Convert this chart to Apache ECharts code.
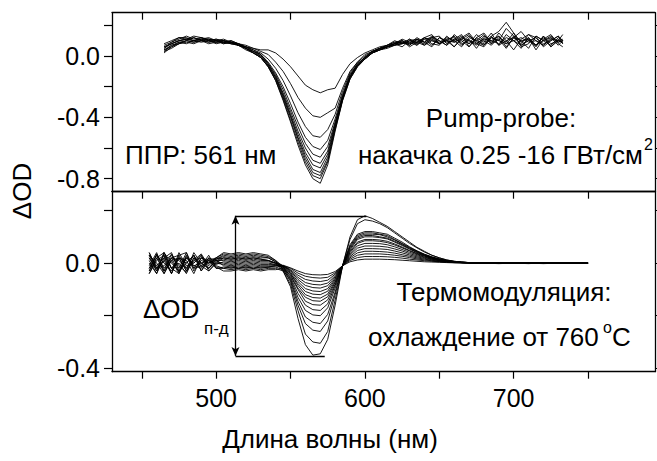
<!DOCTYPE html>
<html>
<head>
<meta charset="utf-8">
<script src="https://cdn.jsdelivr.net/npm/echarts@6/dist/echarts.min.js"></script>
<style>
html,body{margin:0;padding:0;background:#fff;}
#chart{width:657px;height:461px;}
</style>
</head>
<body>
<div id="chart"></div>
<script>
// ---------- DATA ----------
// Top panel (pump-probe) wavelengths, nm
const topWavelengths = [465,470,475,480,485,490,495,500,505,510,515,520,525,530,535,540,545,550,555,560,565,570,575,580,585,590,595,600,605,610,615,620,625,630,635,640,645,650,655,660,665,670,675,680,685,690,695,700,705,710,715,720,725,730,733];

const pp1 = [0.06,0.08,0.10,0.11,0.10,0.11,0.10,0.09,0.10,0.08,0.08,0.07,0.05, 0.04,0.04,0.02,-0.02,-0.07,-0.13,-0.19,-0.22,-0.24,-0.22,-0.21,-0.12,-0.05,-0.01,0.02,0.04, 0.06,0.07,0.09,0.10,0.08,0.12,0.09,0.13,0.10,0.07,0.14,0.10,0.06,0.12,0.15,0.09,0.13,0.06,0.12,0.10,0.05,0.13,0.10,0.07,0.12,0.10];
const pp2 = [0.04,0.07,0.09,0.10,0.12,0.10,0.11,0.09,0.10,0.09,0.07,0.06,0.05, 0.03,0.01,-0.04,-0.10,-0.18,-0.27,-0.34,-0.39,-0.40,-0.37,-0.34,-0.21,-0.10,-0.04,0.01,0.03, 0.05,0.07,0.10,0.08,0.11,0.07,0.12,0.14,0.08,0.11,0.06,0.12,0.15,0.09,0.07,0.13,0.16,0.22,0.15,0.09,0.12,0.07,0.13,0.06,0.11,0.08];
const pp3 = [0.08,0.10,0.12,0.11,0.13,0.12,0.10,0.11,0.09,0.10,0.08,0.06,0.04, 0.02,-0.02,-0.08,-0.16,-0.26,-0.37,-0.46,-0.52,-0.53,-0.48,-0.38,-0.23,-0.11,-0.04,0.00,0.03, 0.05,0.06,0.08,0.06,0.10,0.11,0.07,0.12,0.13,0.08,0.11,0.14,0.06,0.12,0.09,0.15,0.07,0.14,0.10,0.05,0.12,0.04,0.11,0.14,0.08,0.06];
const pp4 = [0.03,0.05,0.08,0.09,0.08,0.10,0.09,0.10,0.08,0.09,0.07,0.06,0.04, 0.01,-0.04,-0.11,-0.20,-0.31,-0.43,-0.53,-0.59,-0.61,-0.55,-0.41,-0.25,-0.12,-0.05,-0.01,0.03, 0.04,0.06,0.07,0.10,0.07,0.11,0.09,0.06,0.12,0.10,0.13,0.07,0.11,0.05,0.12,0.08,0.15,0.10,0.04,0.11,0.14,0.12,0.06,0.10,0.13,0.08];
const pp5 = [0.05,0.09,0.11,0.13,0.11,0.12,0.11,0.10,0.10,0.09,0.08,0.06,0.03, 0.01,-0.05,-0.12,-0.22,-0.34,-0.46,-0.57,-0.64,-0.66,-0.59,-0.43,-0.26,-0.13,-0.05,-0.01,0.02, 0.04,0.06,0.08,0.10,0.06,0.09,0.12,0.08,0.07,0.13,0.09,0.11,0.14,0.08,0.06,0.12,0.10,0.18,0.13,0.07,0.11,0.06,0.13,0.08,0.10,0.14];
const pp6 = [0.02,0.06,0.08,0.10,0.09,0.10,0.08,0.09,0.09,0.08,0.07,0.05,0.03, 0.01,-0.05,-0.13,-0.24,-0.36,-0.49,-0.60,-0.68,-0.70,-0.62,-0.44,-0.27,-0.13,-0.06,-0.01,0.03, 0.05,0.07,0.08,0.11,0.09,0.07,0.11,0.12,0.08,0.10,0.06,0.11,0.08,0.14,0.10,0.07,0.12,0.09,0.15,0.06,0.08,0.13,0.10,0.12,0.07,0.10];
const pp7 = [0.07,0.09,0.12,0.12,0.10,0.11,0.12,0.10,0.11,0.09,0.08,0.05,0.03, 0.00,-0.06,-0.14,-0.25,-0.38,-0.51,-0.63,-0.71,-0.73,-0.64,-0.45,-0.27,-0.14,-0.06,-0.01,0.02, 0.04,0.06,0.07,0.08,0.11,0.09,0.07,0.10,0.09,0.12,0.10,0.06,0.12,0.10,0.14,0.08,0.11,0.05,0.12,0.16,0.10,0.07,0.12,0.06,0.10,0.09];
const pp8 = [0.04,0.06,0.09,0.08,0.10,0.09,0.10,0.08,0.09,0.08,0.07,0.05,0.02, 0.00,-0.06,-0.14,-0.26,-0.39,-0.53,-0.65,-0.74,-0.76,-0.66,-0.46,-0.28,-0.14,-0.06,-0.02,0.02, 0.05,0.06,0.08,0.09,0.07,0.11,0.09,0.12,0.10,0.07,0.11,0.09,0.13,0.10,0.08,0.13,0.07,0.10,0.12,0.08,0.14,0.10,0.07,0.12,0.09,0.11];
const pp9 = [0.06,0.08,0.10,0.11,0.12,0.10,0.11,0.10,0.09,0.10,0.08,0.05,0.02, -0.01,-0.07,-0.15,-0.27,-0.40,-0.54,-0.67,-0.76,-0.78,-0.68,-0.47,-0.28,-0.14,-0.06,-0.01,0.03, 0.05,0.07,0.09,0.08,0.10,0.08,0.11,0.07,0.12,0.09,0.10,0.13,0.08,0.11,0.07,0.12,0.10,0.08,0.13,0.10,0.11,0.07,0.10,0.13,0.09,0.10];
const pp10 = [0.03,0.07,0.08,0.10,0.09,0.11,0.09,0.10,0.08,0.09,0.07,0.04,0.02, -0.01,-0.07,-0.16,-0.28,-0.42,-0.56,-0.69,-0.78,-0.80,-0.69,-0.48,-0.29,-0.15,-0.07,-0.02,0.02, 0.04,0.06,0.08,0.09,0.08,0.09,0.12,0.10,0.08,0.11,0.12,0.08,0.10,0.07,0.13,0.10,0.08,0.12,0.10,0.07,0.10,0.12,0.08,0.10,0.13,0.10];
const pp11 = [0.05,0.08,0.10,0.11,0.10,0.12,0.10,0.11,0.10,0.09,0.07,0.05,0.02, -0.01,-0.07,-0.16,-0.29,-0.43,-0.58,-0.71,-0.80,-0.83,-0.71,-0.49,-0.29,-0.15,-0.07,-0.02,0.02, 0.04,0.05,0.07,0.08,0.09,0.10,0.08,0.11,0.08,0.10,0.09,0.12,0.10,0.08,0.11,0.10,0.13,0.08,0.10,0.12,0.09,0.10,0.07,0.11,0.10,0.09];
const pumpProbeCurves = [pp1,pp2,pp3,pp4,pp5,pp6,pp7,pp8,pp9,pp10,pp11];

// Bottom panel (thermomodulation) wavelengths, nm
const thermoWavelengths = [455,460,465,470,475,480,485,490,495,500,505,510,515,520,525,530,535,540,545,550,555,560,565,570,575,580,585,590,595,600,605,610,615,620,625,630,635,640,645,650,655,660,665,670,675,680,690,700,710,720,735,750];

const tm1 = [0.03,-0.03,0.04,-0.02,0.02,-0.03,0.01,0.02,0.0,0.01, 0.02,0.015,0.02,0.015,0.02,0.015,0.01,0.0, -0.03,-0.09,-0.21,-0.31,-0.35,-0.345,-0.29,-0.16,-0.01,0.10,0.165,0.18,0.17,0.155,0.14,0.12,0.10,0.08,0.06,0.045,0.03,0.02,0.012,0.007,0.004,0.002,0.001,0.0, 0.002,0.0,-0.002,0.001,0.0,0.0];
const tm2 = [-0.03,0.035,-0.02,0.02,-0.035,0.025,-0.01,0.0,0.015,-0.01, -0.02,-0.025,-0.02,-0.025,-0.02,-0.025,-0.02,-0.02, -0.03,-0.08,-0.18,-0.27,-0.30,-0.305,-0.26,-0.14,-0.01,0.09,0.15,0.165,0.16,0.15,0.135,0.115,0.095,0.075,0.058,0.042,0.03,0.02,0.012,0.007,0.004,0.002,0.001,0.0, 0.0,0.002,0.0,-0.002,0.001,0.0];
const tm3 = [0.04,-0.02,0.03,-0.04,0.02,0.0,0.03,-0.015,0.01,0.02, 0.035,0.03,0.035,0.03,0.035,0.03,0.025,0.01, -0.025,-0.07,-0.16,-0.23,-0.255,-0.26,-0.22,-0.12,-0.01,0.07,0.11,0.12,0.12,0.115,0.11,0.095,0.08,0.062,0.047,0.034,0.024,0.016,0.01,0.006,0.003,0.002,0.001,0.0, -0.002,0.0,0.001,0.0,0.002,0.0];
const tm4 = [-0.04,0.02,-0.03,0.035,-0.01,-0.035,0.02,0.0,-0.02,0.01, -0.01,-0.015,-0.01,-0.015,-0.01,-0.015,-0.015,-0.015, -0.025,-0.065,-0.145,-0.205,-0.225,-0.23,-0.195,-0.11,-0.01,0.065,0.105,0.115,0.115,0.11,0.105,0.09,0.075,0.06,0.045,0.033,0.023,0.015,0.01,0.006,0.003,0.002,0.001,0.0, 0.001,-0.001,0.0,0.002,0.0,0.0];
const tm5 = [0.01,-0.04,0.04,0.0,-0.03,0.03,-0.02,0.02,0.0,0.015, 0.025,0.02,0.025,0.02,0.025,0.02,0.02,0.005, -0.02,-0.06,-0.13,-0.18,-0.197,-0.20,-0.17,-0.095,-0.01,0.06,0.10,0.11,0.11,0.108,0.10,0.088,0.073,0.058,0.044,0.032,0.022,0.015,0.009,0.005,0.003,0.002,0.001,0.0, 0.0,0.001,-0.001,0.0,0.0,0.001];
const tm6 = [-0.02,0.03,-0.04,0.02,0.01,-0.02,0.03,-0.03,0.01,-0.005, 0.005,0.0,0.005,0.0,0.005,0.0,0.0,-0.005, -0.02,-0.055,-0.115,-0.16,-0.177,-0.18,-0.155,-0.085,-0.01,0.055,0.095,0.105,0.105,0.10,0.095,0.083,0.07,0.055,0.042,0.03,0.021,0.014,0.009,0.005,0.003,0.002,0.001,0.0, 0.0,0.0,0.001,-0.001,0.0,0.0];
const tm7 = [0.03,-0.01,0.02,-0.04,0.04,-0.01,0.0,0.03,-0.02,0.015, 0.03,0.025,0.03,0.025,0.03,0.025,0.02,0.005, -0.015,-0.05,-0.10,-0.145,-0.158,-0.16,-0.14,-0.08,-0.01,0.05,0.09,0.10,0.10,0.097,0.092,0.08,0.067,0.053,0.04,0.029,0.02,0.013,0.008,0.005,0.003,0.002,0.001,0.0, 0.001,0.0,0.0,0.001,-0.001,0.0];
const tm8 = [-0.01,0.04,-0.03,0.01,-0.04,0.02,-0.01,-0.02,0.02,-0.015, -0.03,-0.03,-0.025,-0.03,-0.025,-0.03,-0.025,-0.025, -0.02,-0.045,-0.095,-0.13,-0.143,-0.145,-0.128,-0.073,-0.01,0.045,0.08,0.09,0.09,0.088,0.083,0.073,0.061,0.048,0.037,0.027,0.019,0.012,0.008,0.005,0.003,0.002,0.001,0.0, 0.0,-0.001,0.0,0.0,0.001,0.0];
const tm9 = [0.02,-0.03,0.01,0.03,-0.02,0.04,-0.03,0.01,0.0,0.02, 0.015,0.01,0.015,0.01,0.015,0.01,0.01,0.0, -0.015,-0.04,-0.085,-0.12,-0.131,-0.133,-0.118,-0.068,-0.01,0.04,0.075,0.085,0.085,0.083,0.078,0.069,0.058,0.046,0.035,0.026,0.018,0.012,0.007,0.004,0.002,0.001,0.001,0.0, 0.0,0.0,0.001,0.0,0.0,0.0];
const tm10 = [-0.04,0.01,0.03,-0.02,0.0,-0.04,0.02,-0.01,-0.03,0.0, -0.005,-0.01,-0.005,-0.01,-0.005,-0.01,-0.01,-0.01, -0.015,-0.04,-0.078,-0.108,-0.118,-0.12,-0.107,-0.062,-0.01,0.035,0.066,0.075,0.075,0.074,0.07,0.062,0.052,0.041,0.032,0.023,0.016,0.011,0.007,0.004,0.002,0.001,0.001,0.0, 0.0,0.0,0.0,-0.001,0.0,0.0];
const tm11 = [0.04,-0.02,-0.01,0.02,0.03,-0.02,0.01,0.035,-0.01,0.02, 0.04,0.035,0.04,0.035,0.04,0.035,0.03,0.01, -0.012,-0.035,-0.07,-0.097,-0.106,-0.108,-0.097,-0.057,-0.01,0.03,0.057,0.065,0.065,0.064,0.061,0.054,0.046,0.036,0.028,0.021,0.015,0.01,0.006,0.004,0.002,0.001,0.0,0.0, 0.0,0.001,0.0,0.0,0.0,0.0];
const tm12 = [-0.02,0.03,0.0,-0.03,0.02,0.01,-0.04,0.02,0.01,-0.02, -0.02,-0.015,-0.02,-0.015,-0.02,-0.015,-0.015,-0.01, -0.012,-0.03,-0.062,-0.085,-0.093,-0.095,-0.086,-0.052,-0.01,0.025,0.048,0.055,0.055,0.054,0.052,0.046,0.039,0.031,0.024,0.018,0.013,0.009,0.006,0.003,0.002,0.001,0.0,0.0, 0.0,0.0,0.0,0.0,0.0,0.0];
const tm13 = [0.0,-0.04,0.02,0.04,-0.03,0.0,0.03,-0.03,0.02,0.01, 0.01,0.005,0.01,0.005,0.01,0.005,0.005,0.0, -0.01,-0.028,-0.054,-0.074,-0.081,-0.083,-0.076,-0.047,-0.01,0.02,0.039,0.045,0.045,0.044,0.042,0.038,0.032,0.026,0.02,0.015,0.011,0.007,0.005,0.003,0.002,0.001,0.0,0.0, 0.0,0.0,0.0,0.0,0.0,0.0];
const tm14 = [0.03,0.0,-0.04,0.01,0.02,-0.03,0.04,0.0,-0.02,0.005, 0.0,-0.005,0.0,-0.005,0.0,-0.005,-0.005,-0.005, -0.01,-0.025,-0.046,-0.062,-0.068,-0.07,-0.065,-0.042,-0.01,0.015,0.03,0.035,0.035,0.035,0.033,0.03,0.026,0.021,0.016,0.012,0.009,0.006,0.004,0.002,0.001,0.001,0.0,0.0, 0.0,0.0,0.0,0.0,0.0,0.0];
const tm15 = [-0.03,0.02,0.04,-0.02,-0.04,0.02,0.0,0.03,-0.03,0.0, 0.02,0.015,0.02,0.015,0.02,0.015,0.01,0.0, -0.01,-0.02,-0.038,-0.05,-0.055,-0.057,-0.054,-0.037,-0.01,0.01,0.021,0.025,0.025,0.025,0.024,0.022,0.019,0.015,0.012,0.009,0.007,0.005,0.003,0.002,0.001,0.0,0.0,0.0, 0.0,0.0,0.0,0.0,0.0,0.0];
const tm16 = [0.02,-0.02,0.01,-0.04,0.03,0.04,-0.02,-0.01,0.03,-0.02, -0.015,-0.02,-0.015,-0.02,-0.015,-0.02,-0.015,-0.01, -0.008,-0.018,-0.03,-0.04,-0.044,-0.045,-0.043,-0.032,-0.01,0.005,0.012,0.015,0.015,0.015,0.014,0.013,0.011,0.009,0.007,0.005,0.004,0.003,0.002,0.001,0.001,0.0,0.0,0.0, 0.0,0.0,0.0,0.0,0.0,0.0];
const thermoCurves = [tm1,tm2,tm3,tm4,tm5,tm6,tm7,tm8,tm9,tm10,tm11,tm12,tm13,tm14,tm15,tm16];

// Axis ticks / labels
const xTicks = [450,500,550,600,650,700,750];
const xLabels = [500,600,700];
const topYTicks = [-0.8,-0.6,-0.4,-0.2,0,0.2];
const topYLabels = [-0.8,-0.4,0];
const botYTicks = [-0.4,-0.2,0,0.2];
const botYLabels = [-0.4,0];

// ΔOD(п-д) bracket annotation, data coords [nm, ΔOD]
const bracketX = 513;
const bracketTop = [513, 601, 0.18];      // x from, x to, y
const bracketBottom = [513, 573, -0.353]; // x from, x to, y

// ---------- CHART ----------
const FONT = "'Liberation Sans', Arial, sans-serif";
const chart = echarts.init(document.getElementById('chart'), null, {renderer:'svg', width:657, height:461});

const axisLine = {show:true, onZero:false, lineStyle:{color:'#000', width:1.3}};
function xAx(grid, pos, tickInside, showLabels, showTick) {
  return {
    type:'value', gridIndex:grid, position:pos, min:430, max:795,
    axisLine: axisLine,
    axisTick: {show:showTick, inside:tickInside, length:7, lineStyle:{color:'#000', width:1.2}, customValues:xTicks},
    axisLabel: {show:showLabels, customValues:xLabels, fontSize:25, fontFamily:FONT, color:'#000', margin:14},
    splitLine:{show:false}
  };
}
function yAx(grid, pos, min, max, ticks, labels, showLabels) {
  return {
    type:'value', gridIndex:grid, position:pos, min:min, max:max,
    axisLine: axisLine,
    axisTick: {show:true, inside:false, length:8, lineStyle:{color:'#000', width:1.2}, customValues:ticks},
    axisLabel: {show:showLabels, customValues:labels, fontSize:25, fontFamily:FONT, color:'#000', margin:12,
      formatter: v => Number(v).toFixed(1)},
    splitLine:{show:false}
  };
}

const series = [];
pumpProbeCurves.forEach((arr) => {
  series.push({
    type:'line', xAxisIndex:0, yAxisIndex:0, showSymbol:false, silent:true, animation:false,
    data: topWavelengths.map((x, i) => [x, arr[i]]),
    lineStyle:{color:'#000', width:0.9}
  });
});
thermoCurves.forEach((arr) => {
  series.push({
    type:'line', xAxisIndex:2, yAxisIndex:2, showSymbol:false, silent:true, animation:false,
    data: thermoWavelengths.map((x, i) => [x, arr[i]]),
    lineStyle:{color:'#000', width:0.9}
  });
});
// bracket
series.push({
  type:'line', xAxisIndex:2, yAxisIndex:2, data:[], silent:true, animation:false,
  markLine:{
    silent:true, animation:false, symbol:'none', symbolSize:[6,9],
    label:{show:false},
    lineStyle:{color:'#000', width:1.3, type:'solid'},
    emphasis:{disabled:true},
    data:[
      [{coord:[bracketTop[0], bracketTop[2]]}, {coord:[bracketTop[1], bracketTop[2]]}],
      [{coord:[bracketBottom[0], bracketBottom[2]]}, {coord:[bracketBottom[1], bracketBottom[2]]}],
      [{coord:[bracketX, bracketTop[2]], symbol:'arrow'}, {coord:[bracketX, bracketBottom[2]], symbol:'arrow'}]
    ]
  }
});

function txt(text, x, y, size, align) {
  return {type:'text', x:x, y:y, silent:true,
    style:{text:text, font: size + "px " + FONT, fill:'#000', textAlign:align||'left', textVerticalAlign:'middle', align:align||'left', verticalAlign:'middle'}};
}

chart.setOption({
  animation:false,
  backgroundColor:'#fff',
  grid:[
    {left:112, top:12.7, width:543, height:179},
    {left:112, top:191.7, width:543, height:180}
  ],
  xAxis:[
    xAx(0,'bottom',false,false,true),
    xAx(0,'top',true,false,true),
    xAx(1,'bottom',false,true,true),
    xAx(1,'top',true,false,false)
  ],
  yAxis:[
    yAx(0,'left',-0.885,0.2825,topYTicks,topYLabels,true),
    yAx(0,'right',-0.885,0.2825,topYTicks,topYLabels,false),
    yAx(1,'left',-0.413,0.2716,botYTicks,botYLabels,true),
    yAx(1,'right',-0.413,0.2716,botYTicks,botYLabels,false)
  ],
  series: series,
  graphic:[
    Object.assign(txt('ΔOD', 22, 191, 26, 'center'), {rotation:Math.PI/2}),
    txt('Длина волны (нм)', 330, 439, 26, 'center'),
    txt('ППР: 561 нм', 125, 155, 26, 'left'),
    txt('Pump-probe:', 501, 118, 26, 'center'),
    txt('накачка 0.25 -16 ГВт/см', 643, 155, 26, 'right'),
    txt('2', 644, 144, 16, 'left'),
    txt('ΔOD', 143, 309, 26, 'left'),
    txt('п-д', 204, 328, 17, 'left'),
    txt('Термомодуляция:', 504, 292, 26, 'center'),
    txt('охлаждение от 760', 368, 337, 26, 'left'),
    txt('o', 603, 327, 16, 'left'),
    txt('C', 612, 337, 26, 'left')
  ]
});
</script>
</body>
</html>
